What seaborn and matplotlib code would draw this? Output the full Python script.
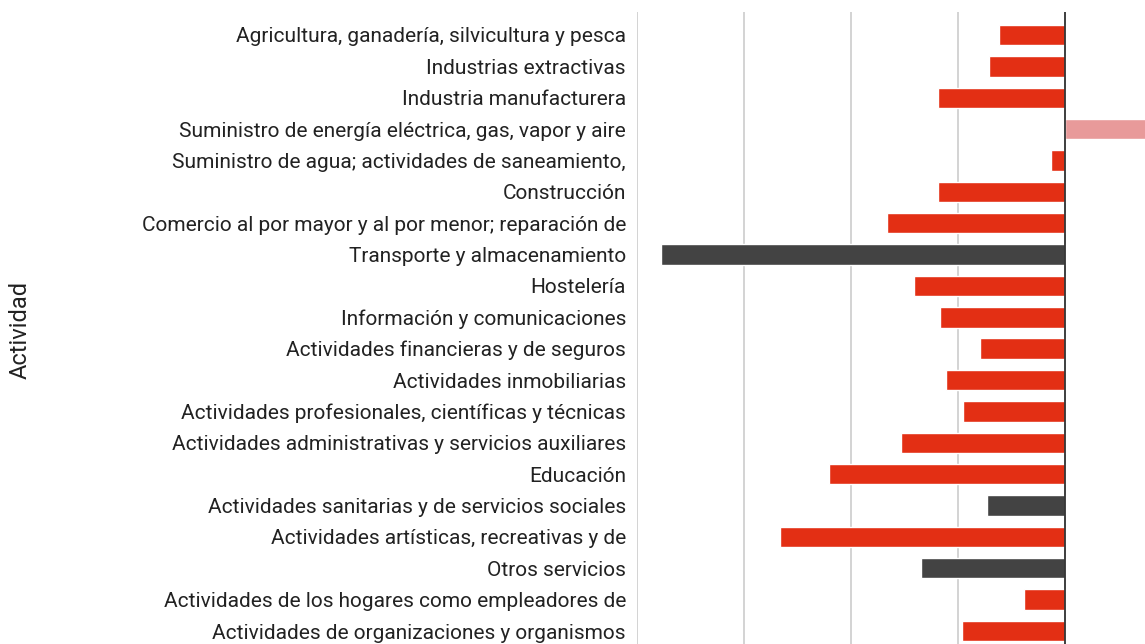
"""Variación por actividad: barras horizontales (recorte del gráfico original)."""

import matplotlib
matplotlib.use("Agg")
import matplotlib.pyplot as plt
import pandas as pd
import seaborn as sns

actividades = [
    "Agricultura, ganadería, silvicultura y pesca",
    "Industrias extractivas",
    "Industria manufacturera",
    "Suministro de energía eléctrica, gas, vapor y aire",
    "Suministro de agua; actividades de saneamiento,",
    "Construcción",
    "Comercio al por mayor y al por menor; reparación de",
    "Transporte y almacenamiento",
    "Hostelería",
    "Información y comunicaciones",
    "Actividades financieras y de seguros",
    "Actividades inmobiliarias",
    "Actividades profesionales, científicas y técnicas",
    "Actividades administrativas y servicios auxiliares",
    "Educación",
    "Actividades sanitarias y de servicios sociales",
    "Actividades artísticas, recreativas y de",
    "Otros servicios",
    "Actividades de los hogares como empleadores de",
    "Actividades de organizaciones y organismos",
]
variacion = [-3.1, -3.55, -5.95, 6.0, -0.65, -5.95, -8.3, -18.9, -7.05, -5.85,
             -3.95, -5.55, -4.75, -7.65, -11.05, -3.65, -13.3, -6.75, -1.9, -4.8]
grupo = ["rojo", "rojo", "rojo", "rosa", "rojo", "rojo", "rojo", "gris", "rojo", "rojo",
         "rojo", "rojo", "rojo", "rojo", "rojo", "gris", "rojo", "gris", "rojo", "rojo"]

colores = {"rojo": "#E32F14", "gris": "#434343", "rosa": "#E89A9A"}

df = pd.DataFrame({"Actividad": actividades, "valor": variacion, "grupo": grupo})

sns.set_style("white")
plt.rcParams["font.family"] = ["Roboto", "DejaVu Sans"]

fig = plt.figure(figsize=(11.45, 6.44), dpi=100)
ax = fig.add_axes([637 / 1145, -10 / 644, 642 / 1145, 642 / 644])

sns.barplot(data=df, x="valor", y="Actividad", hue="grupo", palette=colores,
            order=actividades, dodge=False, legend=False, width=0.65,
            saturation=1, ax=ax)

ax.set_xlim(-20, 10)
ax.set_ylim(19.733, -0.733)
ax.set_xticks([-20, -15, -10, -5, 0, 5, 10])
ax.grid(axis="x", color="#cccccc", linewidth=1.2)
ax.set_axisbelow(True)
ax.axvline(0, color="#333333", linewidth=1.3, zorder=3)
for s in ax.spines.values():
    s.set_visible(False)
ax.tick_params(axis="y", length=0, pad=8, labelsize=15, labelcolor="#222222")
ax.tick_params(axis="x", length=0, labelbottom=False)
ax.set_xlabel("")
ax.set_ylabel("")

fig.text(20 / 1145, 1 - 330 / 644, "Actividad", rotation=90, ha="center",
         va="center", fontsize=17, color="#222222")

fig.savefig("out.png", dpi=100)
